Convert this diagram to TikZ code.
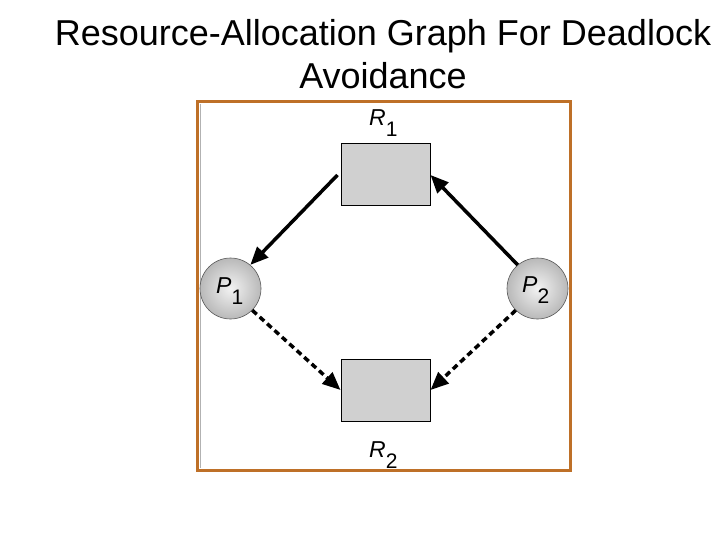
\documentclass[tikz,border=0pt]{standalone}
\usepackage{fontspec}
\setmainfont{Liberation Sans}
\usetikzlibrary{arrows.meta}
\definecolor{frameorange}{RGB}{190,112,40}
\definecolor{boxgray}{RGB}{208,208,208}
\tikzset{
  x=1pt, y=-1pt,
  resbox/.style={draw=black, line width=1pt, fill=boxgray, minimum width=89pt, minimum height=62pt, inner sep=0pt},
  proc/.style={circle, draw=gray!70!black, line width=0.6pt, inner color=gray!10, outer color=gray!55, minimum size=61pt, inner sep=0pt},
  edge/.style={line width=3.5pt, -{Triangle[length=18pt,width=15pt]}},
  claim/.style={edge, dash pattern=on 6pt off 4pt},
  lbl/.style={anchor=base west, inner sep=0pt, font=\fontsize{23pt}{26pt}\selectfont},
}
\newcommand{\lab}[2]{{\itshape #1}\raisebox{-11pt}{\fontsize{21pt}{21pt}\selectfont #2}}
\begin{document}
\begin{tikzpicture}
\useasboundingbox (0,0) rectangle (720,540);
\fill[white] (0,0) rectangle (720,540);
\node[font=\fontsize{36pt}{43pt}\selectfont, align=center] (title) at (383,54) {Resource-Allocation Graph For Deadlock\\Avoidance};
\draw[frameorange, line width=3pt] (197,102) rectangle (570,470);
\draw[gray!60, line width=0.6pt] (200.5,104) -- (200.5,468);
\node[resbox] (R1) at (385.5,175) {};
\node[resbox] (R2) at (385.5,390) {};
\node[proc] (P1) at (230.5,288.5) {};
\node[proc] (P2) at (537.5,288.5) {};
\node[lbl] (r1l) at (369,126) {\lab{R}{1}};
\node[lbl] (r2l) at (369,457) {\lab{R}{2}};
\node[lbl] (p1l) at (216,293) {\lab{P}{1}};
\node[lbl] (p2l) at (522,292) {\lab{P}{2}};
\draw[edge] ([xshift=-3pt]R1.west) -- (P1.50);
\draw[edge] (P2.130) -- (R1.east);
\draw[claim] (P1.-45) -- (R2.west);
\draw[claim] (P2.-135) -- (R2.east);
\end{tikzpicture}
\end{document}
